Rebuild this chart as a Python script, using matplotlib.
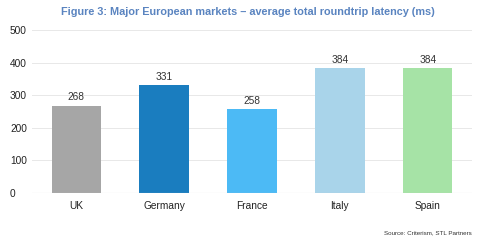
import matplotlib.pyplot as plt

markets = ["UK", "Germany", "France", "Italy", "Spain"]
latency = [268, 331, 258, 384, 384]
colors = ["#a6a6a6", "#1a7dbf", "#4cbaf5", "#a9d4ea", "#a6e3a6"]

plt.rcParams["font.family"] = ["Liberation Sans", "DejaVu Sans"]

fig = plt.figure(figsize=(4.8, 2.4), dpi=100)
ax = fig.add_axes([0.067, 0.196, 0.916, 0.679])

bars = ax.bar(markets, latency, width=0.56, color=colors, zorder=3)
for b, v in zip(bars, latency):
    ax.text(b.get_x() + b.get_width() / 2, v + 10, str(v),
            ha="center", va="bottom", fontsize=7.3, color="#333333")

ax.set_xlim(-0.5, 4.5)
ax.set_ylim(0, 500)
ax.set_yticks(range(0, 501, 100))
ax.grid(axis="y", color="#e8e8e8", linewidth=0.7, zorder=0)
ax.axhline(0, color="#cccccc", linewidth=0.8, zorder=4)
for s in ax.spines.values():
    s.set_visible(False)
ax.tick_params(length=0, labelsize=7.3, colors="#222222")
ax.tick_params(axis="y", pad=16)
ax.tick_params(axis="x", pad=6)
for lbl in ax.get_yticklabels():
    lbl.set_horizontalalignment("left")

fig.text(0.517, 0.95, "Figure 3: Major European markets \u2013 average total roundtrip latency (ms)",
         ha="center", va="center", fontsize=7.8, fontweight="bold", color="#5a84c0")
fig.text(0.983, 0.03, "Source: Criterism, STL Partners",
         ha="right", va="center", fontsize=4.5, color="#333333")

fig.savefig("out.png", dpi=100)
